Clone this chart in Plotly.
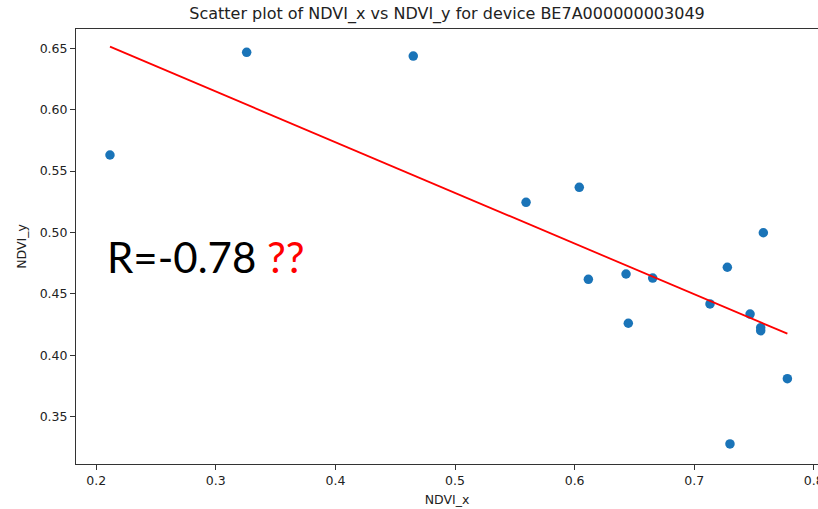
import plotly.graph_objects as go

# NDVI readings for device BE7A000000003049
ndvi_x = [0.2115, 0.3258, 0.4651, 0.5594, 0.6039, 0.6115, 0.6430, 0.6449, 0.6653,
          0.7132, 0.7277, 0.7299, 0.7467, 0.7556, 0.7556, 0.7578, 0.7779]
ndvi_y = [0.5631, 0.6467, 0.6437, 0.5246, 0.5368, 0.4619, 0.4662, 0.4261, 0.4629,
          0.4418, 0.4717, 0.3278, 0.4336, 0.4225, 0.4200, 0.4998, 0.3810]

# linear fit evaluated at the smallest and largest NDVI_x
fit_x = [0.2115, 0.7779]
fit_y = [0.6513, 0.4176]

x_ticks = [0.2, 0.3, 0.4, 0.5, 0.6, 0.7, 0.8]
y_ticks = [0.35, 0.40, 0.45, 0.50, 0.55, 0.60, 0.65]

r_text = "R=-0.78"

fig = go.Figure()
fig.add_trace(go.Scatter(
    x=ndvi_x, y=ndvi_y, mode="markers",
    marker=dict(color="#1a74b8", size=9.5, line=dict(width=0)),
    showlegend=False,
))
fig.add_trace(go.Scatter(
    x=fit_x, y=fit_y, mode="lines",
    line=dict(color="#ff0000", width=1.8),
    showlegend=False,
))

fig.add_annotation(
    xref="paper", yref="paper", x=0.039, y=0.475,
    xanchor="left", yanchor="middle", showarrow=False,
    text=r_text + ' <span style="color:#ff0000">??</span>',
    font=dict(family="Lato, Noto Sans, sans-serif", size=42, color="#000000"),
)

axis_font = dict(family="DejaVu Sans, sans-serif", size=12.5, color="#222222")

fig.update_layout(
    width=818, height=509,
    margin=dict(l=76, r=0, t=29, b=45),
    paper_bgcolor="white", plot_bgcolor="white",
    title=dict(
        text="Scatter plot of NDVI_x vs NDVI_y for device BE7A000000003049",
        font=dict(family="DejaVu Sans, sans-serif", size=16, color="#222222"),
        xref="paper", x=0.5, xanchor="center",
        yref="container", y=1 - 13 / 509, yanchor="middle",
    ),
    font=axis_font,
)

fig.update_xaxes(
    range=[0.1831, 0.8035], tickvals=x_ticks,
    ticktext=[f"{v:.1f}" for v in x_ticks],
    ticklabeloverflow="allow", automargin=False,
    showgrid=False, zeroline=False,
    showline=True, linecolor="#333333", linewidth=1, mirror=True,
    ticks="outside", ticklen=5, tickcolor="#333333",
    tickfont=axis_font,
    title=dict(text="NDVI_x", font=axis_font, standoff=8),
)
fig.update_yaxes(
    range=[0.3115, 0.6657], tickvals=y_ticks,
    ticktext=[f"{v:.2f}" for v in y_ticks],
    automargin=False,
    showgrid=False, zeroline=False,
    showline=True, linecolor="#333333", linewidth=1,
    ticks="outside", ticklen=5, tickcolor="#333333",
    tickfont=axis_font,
    title=dict(text="NDVI_y", font=axis_font, standoff=10),
)

fig.write_html("out.html")
